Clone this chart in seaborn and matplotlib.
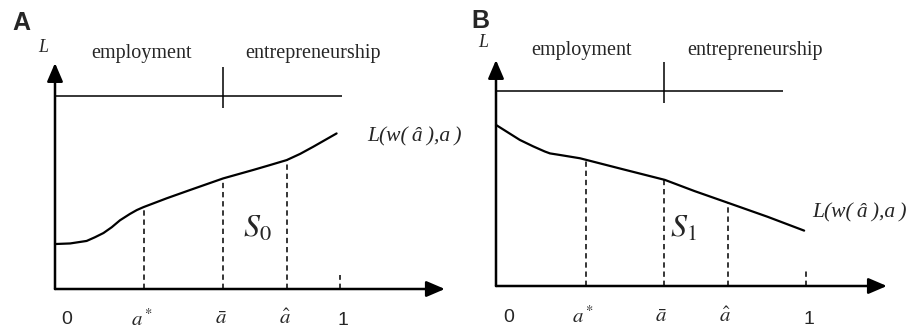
import numpy as np
import pandas as pd
import matplotlib
matplotlib.use("Agg")
import matplotlib.pyplot as plt
import seaborn as sns

# ---- data (x in units of a, y in units of L) ----
# panel A: rising curve
a_x = [0.0, 0.053, 0.111, 0.140, 0.170, 0.199, 0.228, 0.263, 0.287, 0.310, 0.392,
       0.474, 0.590, 0.696, 0.754, 0.813, 0.860, 0.906, 0.988]
a_y = [0.233, 0.236, 0.249, 0.268, 0.290, 0.320, 0.356, 0.389, 0.409, 0.424, 0.470,
       0.513, 0.573, 0.617, 0.642, 0.668, 0.700, 0.737, 0.806]
a_marks = [0.312, 0.589, 0.814]          # a*, a-bar, a-hat
a_mark_h = [0.425, 0.575, 0.668]
a_line_end = 1.007
a_xmax, a_ymax = 1.368, 1.171

# panel B: falling curve
b_x = [0.0, 0.077, 0.120, 0.157, 0.174, 0.206, 0.271, 0.411, 0.545, 0.640, 0.753, 0.876, 0.994]
b_y = [0.826, 0.749, 0.716, 0.690, 0.680, 0.672, 0.655, 0.598, 0.544, 0.487, 0.424, 0.355, 0.284]
b_marks = [0.290, 0.542, 0.748]
b_mark_h = [0.654, 0.544, 0.424]
b_line_end = 0.926
b_xmax, b_ymax = 1.261, 1.159

one_tick_h = 0.075
divider = (0.94, 1.15)
tick_names = [r"$a^*$", r"$\bar{a}$", r"$\hat{a}$"]

sns.set_theme(style="white")
plt.rcParams["mathtext.fontset"] = "stix"
plt.rcParams["font.family"] = ["Liberation Serif", "DejaVu Serif"]

W, H = 907, 334
fig = plt.figure(figsize=(W / 100, H / 100), dpi=100)

XL = (-0.2, 1.45)
YL = (-0.3, 1.4)
SANS = ["Liberation Sans", "DejaVu Sans"]


def make_axes(ox, oy, sx, sy):
    # axes placed so that data (0,0) sits at pixel (ox, oy) from top-left
    left = (ox + XL[0] * sx) / W
    width = (XL[1] - XL[0]) * sx / W
    bottom = 1 - (oy - YL[0] * sy) / H
    height = (YL[1] - YL[0]) * sy / H
    ax = fig.add_axes([left, bottom, width, height])
    ax.set_xlim(*XL)
    ax.set_ylim(*YL)
    ax.axis("off")
    return ax


def draw_panel(ax, xs, ys, marks, mark_h, line_end, xmax, ymax,
               sub, lab_xy, s_xy, head, txt_y, one_y):
    arrow = dict(arrowstyle="-|>,head_length=0.7,head_width=0.3", lw=1.8,
                 color="black", mutation_scale=16, shrinkA=0, shrinkB=0)
    ax.annotate("", xy=(xmax, 0), xytext=(0, 0), arrowprops=arrow, annotation_clip=False)
    ax.annotate("", xy=(0, ymax), xytext=(0, 0), arrowprops=arrow, annotation_clip=False)

    df = pd.DataFrame({"a": xs, "L": ys})
    sns.lineplot(data=df, x="a", y="L", ax=ax, color="black", lw=1.6, sort=False)

    ax.hlines(1.0, 0, line_end, color="black", lw=1.1)
    ax.vlines(marks[1], divider[0], divider[1], color="black", lw=1.1)
    ax.vlines(marks, 0, mark_h, color="black", lw=1.1, linestyles=(0, (3.5, 2.5)))
    ax.vlines(1.0, 0, one_tick_h, color="black", lw=1.1, linestyles=(0, (3.5, 2.5)))

    # tick labels
    ax.text(0.04, -0.16, "0", ha="center", va="center", fontsize=14, family=SANS)
    ax.text(1.01, one_y, "1", ha="center", va="center", fontsize=14, family=SANS)
    for m, name in zip(marks, tick_names):
        ax.text(m - 0.008, -0.16, name, ha="center", va="center", fontsize=15)

    ax.text(-0.042, 1.25, "L", style="italic", ha="center", va="center", fontsize=13)
    ax.text(head[0], txt_y, "employment", ha="center", va="center", fontsize=14.5)
    ax.text(head[1], txt_y, "entrepreneurship", ha="center", va="center", fontsize=14.5)
    ax.text(lab_xy[0], lab_xy[1], "L(w(\u2009â\u2009),a\u2009)", style="italic",
            ha="center", va="center", fontsize=15.5)
    ax.text(s_xy[0], s_xy[1], r"$S_{%s}$" % sub, ha="center", va="center", fontsize=23)


axA = make_axes(55, 289, 285, 193)
draw_panel(axA, a_x, a_y, a_marks, a_mark_h, a_line_end, a_xmax, a_ymax,
           "0", (1.263, 0.788), (0.71, 0.31), (0.305, 0.905), 1.218, -0.161)

axB = make_axes(496, 286, 310, 195)
draw_panel(axB, b_x, b_y, b_marks, b_mark_h, b_line_end, b_xmax, b_ymax,
           "1", (1.174, 0.374), (0.605, 0.29), (0.277, 0.835), 1.21, -0.174)

fig.text(21 / W, 1 - 23 / H, "A", ha="center", va="center", fontsize=18,
         weight="bold", family=SANS)
fig.text(480 / W, 1 - 21 / H, "B", ha="center", va="center", fontsize=18,
         weight="bold", family=SANS)

fig.savefig("out.png", dpi=100, facecolor="white")
